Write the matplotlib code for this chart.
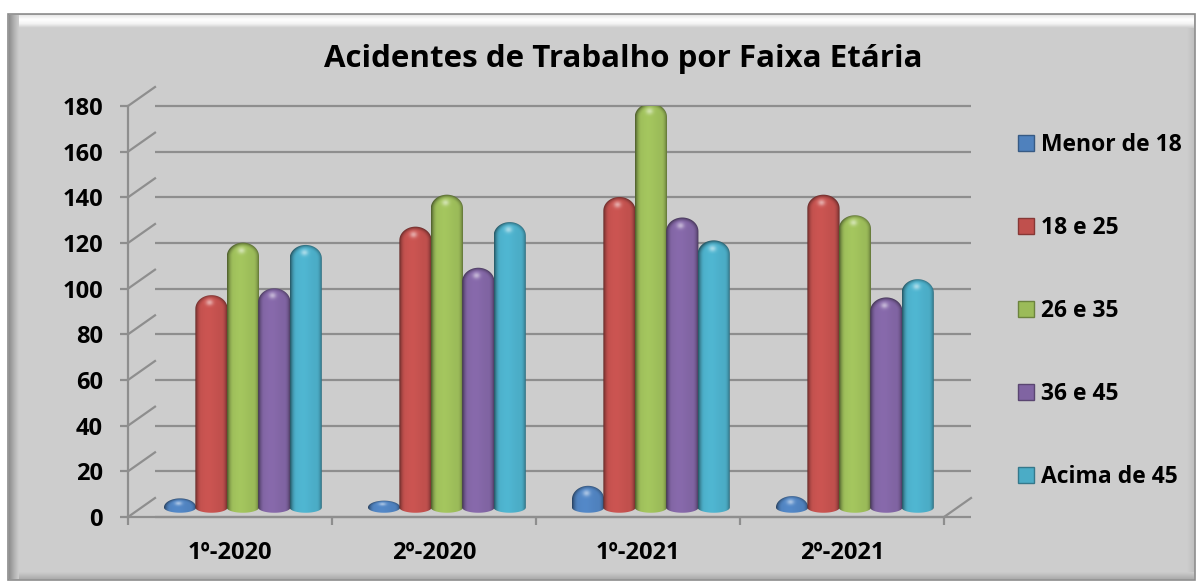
import numpy as np
import matplotlib
matplotlib.use("Agg")
import matplotlib.pyplot as plt
from matplotlib.colors import LinearSegmentedColormap, to_rgb
from matplotlib.patches import Patch, PathPatch, Polygon
from matplotlib.path import Path

plt.rcParams["font.family"] = ["Open Sans", "DejaVu Sans"]
plt.rcParams["font.weight"] = "bold"

# Dados
periodos = ["1º-2020", "2º-2020", "1º-2021", "2º-2021"]
faixas = ["Menor de 18", "18 e 25", "26 e 35", "36 e 45", "Acima de 45"]
menor_18 = [1, 0.5, 5.5, 1.5]
de_18_25 = [89, 119, 132, 133]
de_26_35 = [112, 133, 173, 124]
de_36_45 = [92, 101, 123, 88]
acima_45 = [111, 121, 113, 96]
cores = ["#4F81BD", "#C0504D", "#9BBB59", "#8064A2", "#4BACC6"]
series = [menor_18, de_18_25, de_26_35, de_36_45, acima_45]
y_ticks = list(range(0, 181, 20))

W, H = 1196, 582
fig = plt.figure(figsize=(W / 100, H / 100), dpi=100, facecolor="white")

# Moldura chanfrada, em pixels
bg = fig.add_axes([0, 0, 1, 1])
bg.set_xlim(0, W)
bg.set_ylim(H, 0)
bg.axis("off")
L, T, R, B = 8, 14, 1195, 580
bg.add_patch(Polygon([(L, T), (R, T), (R, B), (L, B)], fc="#CDCDCD", ec="#8C8C8C", lw=1.2, zorder=0))


def faixa(x0, x1, y0, y1, cores_faixa, vertical):
    g = np.linspace(0, 1, 32)
    g = g[:, None] if vertical else g[None, :]
    cm = LinearSegmentedColormap.from_list("f", cores_faixa)
    bg.imshow(g, extent=(x0, x1, y1, y0), cmap=cm, aspect="auto", vmin=0, vmax=1, origin="upper",
              zorder=1)


faixa(L + 1, L + 11, T + 1, B - 1, ["#8E8E8E", "#B0B0B0", "#CDCDCD"], False)
faixa(R - 8, R - 1, T + 1, B - 1, ["#CDCDCD", "#C0C0C0"], False)
faixa(L + 11, R - 1, T + 1, T + 14, ["#E8E8E8", "#FFFFFF", "#F4F4F4", "#CDCDCD"], True)
faixa(L + 11, R - 1, B - 8, B - 1, ["#CDCDCD", "#ACACAC"], True)
bg.set_xlim(0, W)
bg.set_ylim(H, 0)

# Area do grafico: plano frontal
x0_px, x1_px, y0_px, y1_px = 128, 944, 517, 106
ax = fig.add_axes([x0_px / W, 1 - y0_px / H, (x1_px - x0_px) / W, (y0_px - y1_px) / H])
ax.patch.set_alpha(0)

n = len(periodos)
DX = 27 / 204
DY = 19 / (411 / 180)
GRADE = "#8E8E8E"

# Paredes do fundo e do lado
ax.hlines(y_ticks, DX, n + DX, color=GRADE, lw=1.6, clip_on=False, zorder=1)
for t in y_ticks:
    ax.plot([0, DX], [t, t + DY], color=GRADE, lw=1.6, clip_on=False, zorder=1)
ax.plot([n, n + DX], [0, DY], color=GRADE, lw=1.6, clip_on=False, zorder=1)


def cilindro(xc, v, larg, cor, z):
    # corpo do cilindro com topo arredondado, sombreado pixel a pixel
    a = larg / 2
    base = DY / 2
    topo = base + v + min(4.0, 2.0 + v)
    ombro = max(base, topo - 6.0)
    cap = topo - ombro
    th = np.linspace(np.pi, 2 * np.pi, 30)
    th2 = np.linspace(0, np.pi, 30)
    xs = np.r_[xc + a * np.cos(th), xc + a * np.cos(th2)]
    ys = np.r_[base + 2.3 * np.sin(th), ombro + cap * np.sin(th2)]
    pts = np.column_stack([xs, ys])
    clip = PathPatch(Path(np.vstack([pts, pts[0]]), closed=True), fc="none", ec="none",
                     transform=ax.transData)
    ax.add_patch(clip)

    c = np.array(to_rgb(cor))
    yy = np.linspace(base - 3, topo, 240)
    uu = np.linspace(-1, 1, 64)
    u, y = np.meshgrid(uu, yy)
    w = np.clip((y - ombro) / cap, 0, 1)
    r = np.sqrt(u ** 2 + w ** 2)
    escuro = np.clip((r - 0.62) / 0.38, 0, 1) ** 2
    corpo = 0.06 * np.exp(-((u + 0.2) ** 2) / 0.25)
    brilho = 0.5 * np.exp(-((u + 0.12) ** 2 + (w - 0.42) ** 2) / 0.05) * (y > ombro)
    rgb = c[None, None, :] * (1 - 0.5 * escuro[..., None]) * (1 + corpo[..., None])
    rgb = rgb + (1 - rgb) * brilho[..., None]
    im = ax.imshow(np.clip(rgb, 0, 1), extent=(xc - a, xc + a, base - 3, topo), aspect="auto",
                   origin="lower", zorder=z, interpolation="bilinear")
    im.set_clip_path(clip)


larg = 0.158
passo = 0.154
for i, (vals, cor) in enumerate(zip(series, cores)):
    for j, v in enumerate(vals):
        xc = j + 0.189 + i * passo + DX / 2
        cilindro(xc, v, larg, cor, 3 + i)

ax.set_xlim(0, n)
ax.set_ylim(0, 180)
ax.set_yticks(y_ticks)
ax.set_xticks(np.arange(n) + 0.5)
ax.set_xticklabels(periodos)
ax.set_xticks(np.arange(n + 1), minor=True)
ax.tick_params(axis="x", which="major", length=0, pad=17, labelsize=17)
ax.tick_params(axis="x", which="minor", length=6, width=1.6, color=GRADE)
ax.tick_params(axis="y", length=6, width=1.6, color=GRADE, pad=12, labelsize=17)
for s in ["top", "right"]:
    ax.spines[s].set_visible(False)
for s in ["left", "bottom"]:
    ax.spines[s].set_color(GRADE)
    ax.spines[s].set_linewidth(1.6)

fig.text(623 / W, 1 - 59 / H, "Acidentes de Trabalho por Faixa Etária", ha="center", va="center",
         fontsize=22.5, fontweight="bold", color="black")

handles = [Patch(fc=c, ec=tuple(np.array(to_rgb(c)) * 0.7), label=f) for f, c in zip(faixas, cores)]
fig.legend(handles=handles, loc="center left", bbox_to_anchor=(1018 / W, 1 - 311 / H), frameon=False,
           fontsize=16.5, labelspacing=2.58, handlelength=0.7, handleheight=0.7, handletextpad=0.3,
           borderpad=0, borderaxespad=0)

fig.savefig("out.png", dpi=100)
